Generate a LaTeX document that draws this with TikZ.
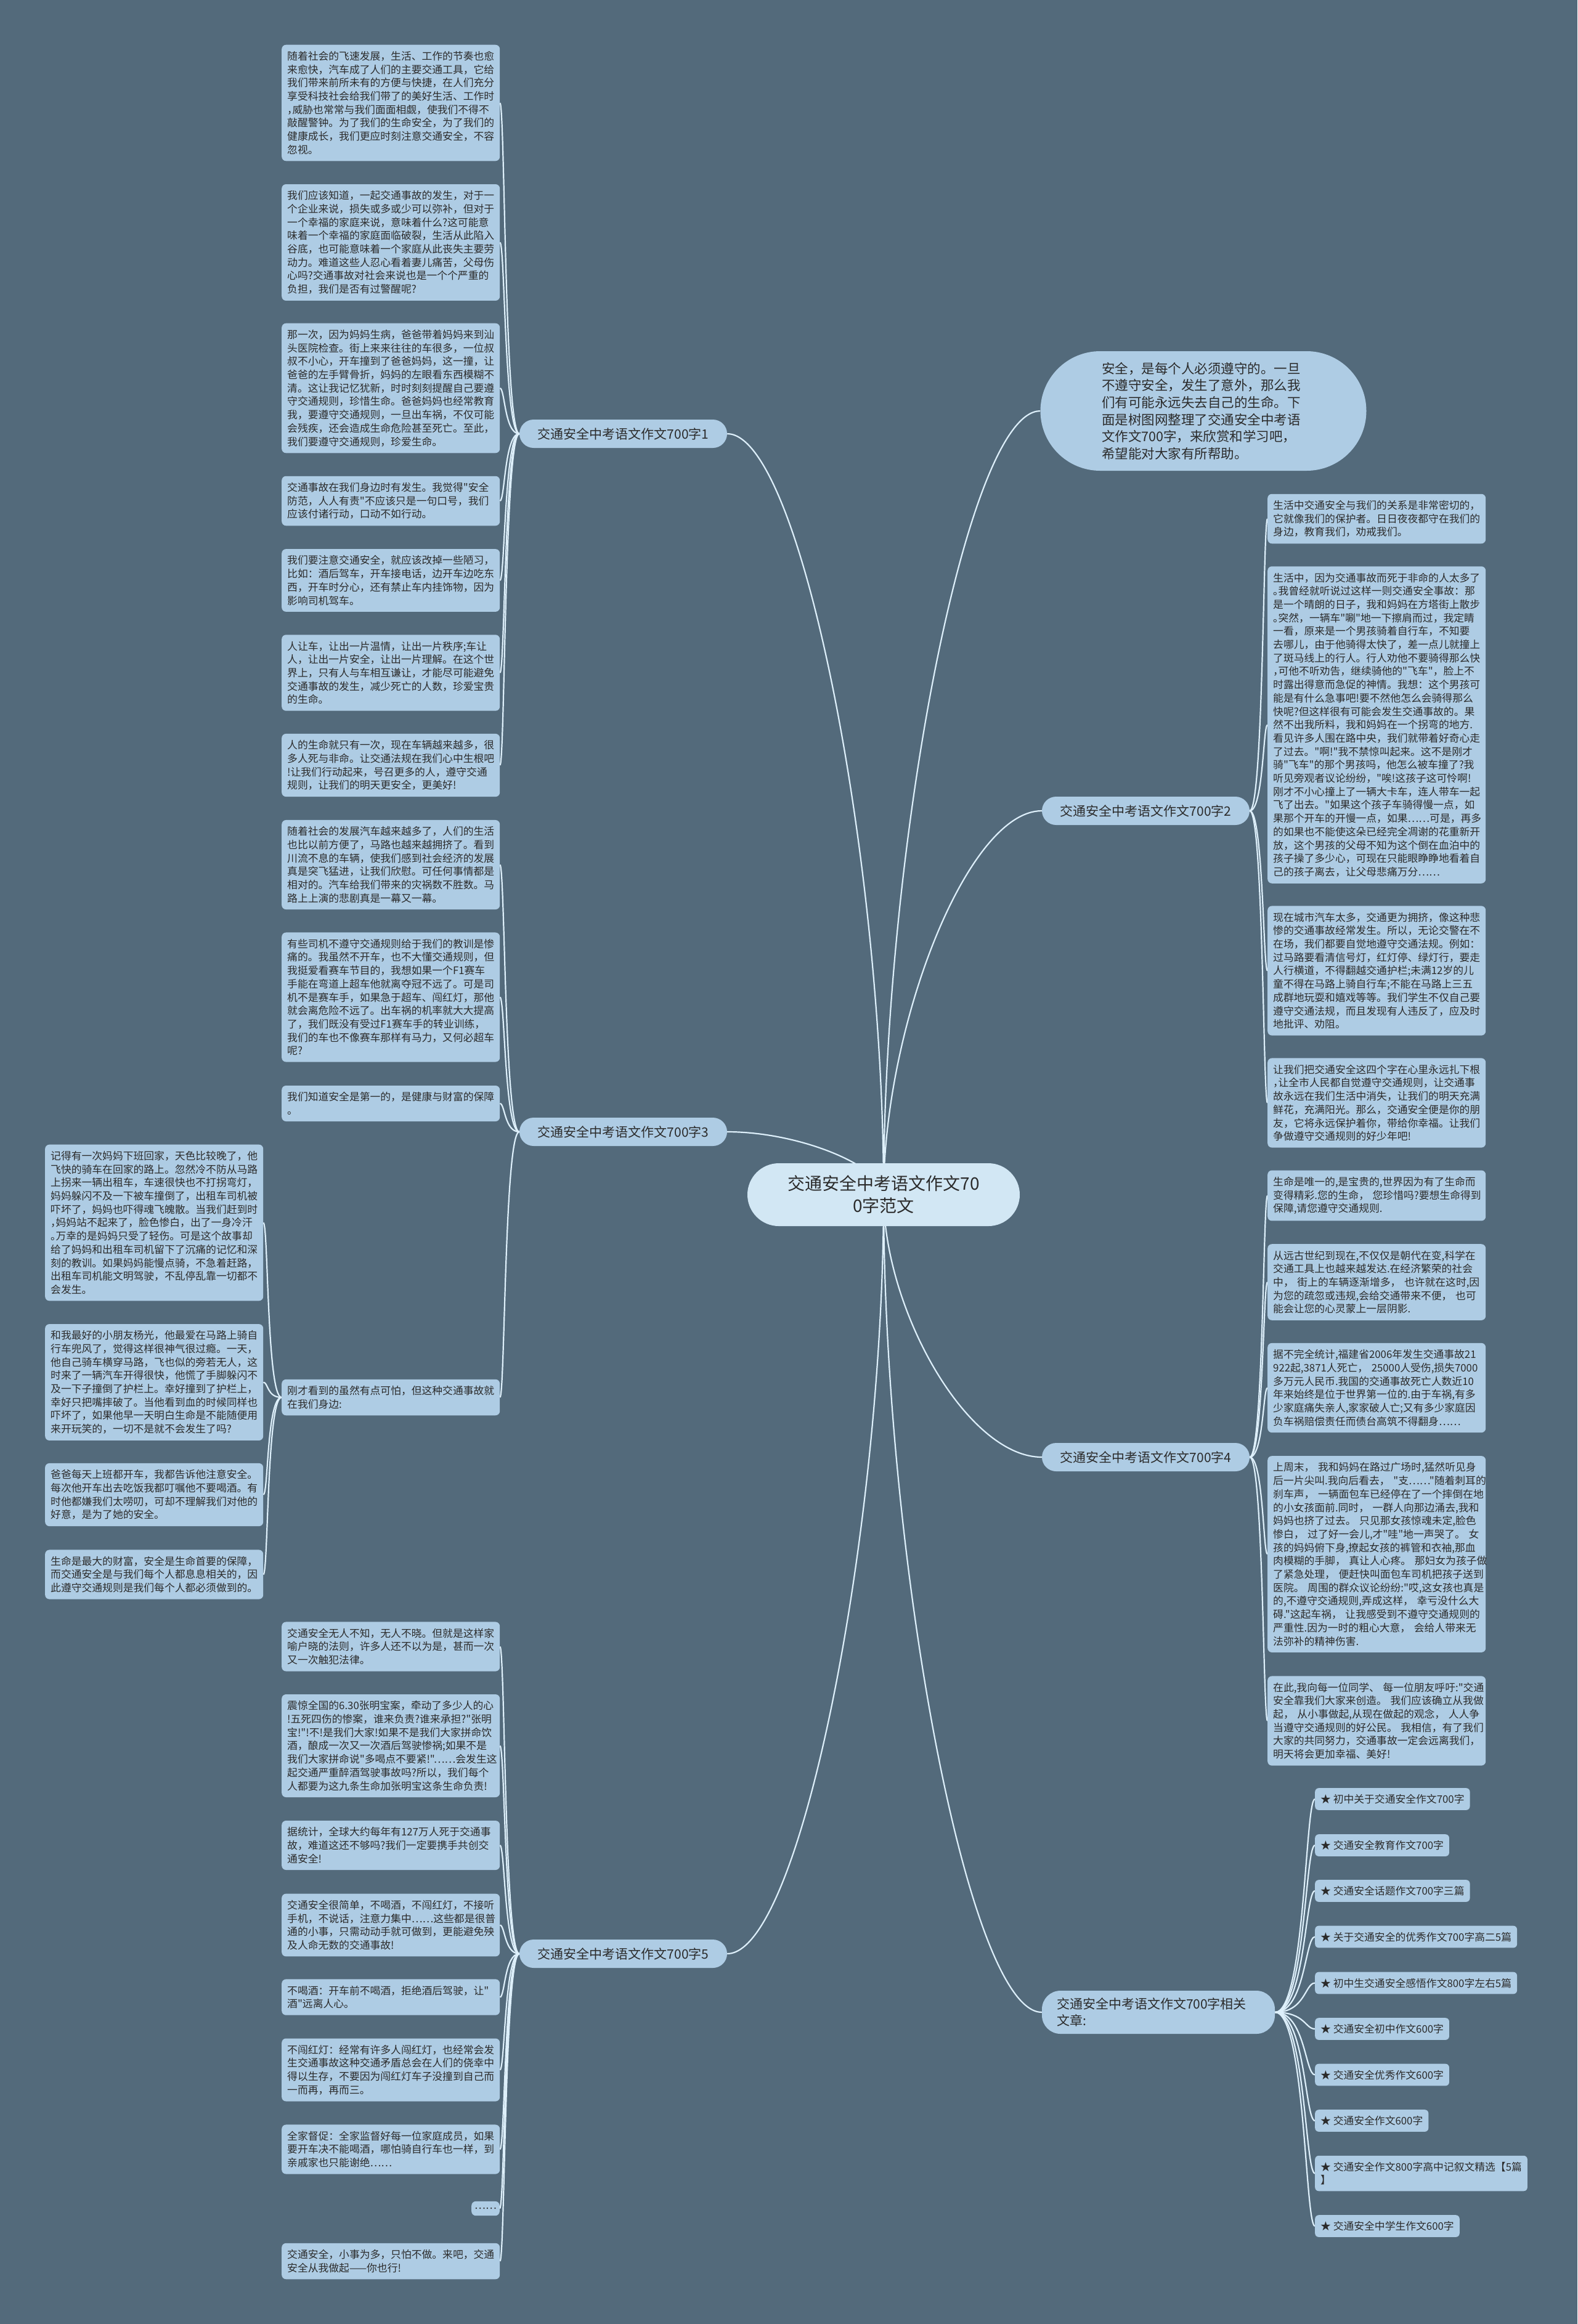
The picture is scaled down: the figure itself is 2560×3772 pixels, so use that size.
\documentclass[tikz,border=0pt]{standalone}
\usepackage{fontspec}
\setmainfont{Noto Sans CJK SC}[Ligatures=TeXOff]
\usetikzlibrary{calc,backgrounds}
\definecolor{bgc}{HTML}{536A7B}
\definecolor{leafc}{HTML}{AECCE4}
\definecolor{centc}{HTML}{D2E7F4}
\definecolor{linec}{HTML}{DDEFFA}
\definecolor{txtc}{HTML}{2B2B2B}
\newcommand\hc[1]{\makebox[0.5em][l]{#1}}
\newcommand\cconn[1]{\draw[link] (c.center) .. controls ($(c.center)!0.44!(c.center |- #1)$) and ($(#1)!0.47!(c.center |- #1)$) .. (#1);}
\newcommand\lconn[2]{\draw[link] (#1.west) .. controls ([xshift=-24pt]#1.west) and ([xshift=8pt]#2.east) .. (#2.east);}
\newcommand\rconn[2]{\draw[link] (#1.east) .. controls ([xshift=22pt]#1.east) and ([xshift=-7pt]#2.west) .. (#2.west);}
\newcommand\aconn[2]{\draw[link] (#1.east) .. controls ([xshift=49pt]#1.east) and ([xshift=-16pt]#2.west) .. (#2.west);}
\begin{document}
\begin{tikzpicture}[x=1pt,y=-1pt,
  leaf/.style={fill=leafc,rounded corners=7pt,text width=336pt,inner xsep=9pt,inner ysep=10.5pt,align=left,anchor=west,font=\fontsize{16.8}{21.7}\selectfont,text=txtc},
  dots/.style={fill=leafc,rounded corners=7pt,inner xsep=5pt,inner ysep=10.5pt,anchor=east,font=\fontsize{16.8}{21.7}\selectfont,text=txtc},
  art/.style={fill=leafc,rounded corners=6pt,inner xsep=9pt,inner ysep=10pt,align=left,anchor=west,font=\fontsize{16.8}{21.7}\selectfont,text=txtc},
  branch/.style={fill=leafc,rounded corners=23pt,minimum width=337pt,minimum height=46pt,inner sep=0pt,font=\fontsize{21}{26}\selectfont,text=txtc},
  relb/.style={fill=leafc,rounded corners=30pt,minimum width=378pt,minimum height=70pt,text width=330pt,align=left,inner sep=0pt,font=\fontsize{21}{27}\selectfont,text=txtc},
  cent/.style={fill=centc,rounded corners=51pt,minimum width=442pt,minimum height=102pt,inner sep=0pt,align=center,font=\fontsize{28}{36}\selectfont,text=txtc},
  intro/.style={fill=leafc,rounded corners=97pt,minimum width=529pt,minimum height=194pt,text width=330pt,inner sep=0pt,align=left,font=\fontsize{21.5}{27.7}\selectfont,text=txtc},
  link/.style={draw=linec,line width=2.2pt},
]
\useasboundingbox (0,0) rectangle (2560,3772);
\begin{scope}[on background layer]
\fill[bgc] (0,0) rectangle (2560,3772);
\end{scope}

% center and intro
\node[cent] (c) at (1434,1939) {交通安全中考语文作文70\\0字范文};
\node[intro] (intro) at (1953,667) {安全，是每个人必须遵守的。一旦\\不遵守安全，发生了意外，那么我\\们有可能永远失去自己的生命。下\\面是树图网整理了交通安全中考语\\文作文700字，来欣赏和学习吧，\\希望能对大家有所帮助。};

% branches
\node[branch] (b1) at (1011.5,704) {交通安全中考语文作文700字1};
\node[branch] (b3) at (1011.5,1837) {交通安全中考语文作文700字3};
\node[branch] (b5) at (1011.5,3171) {交通安全中考语文作文700字5};
\node[branch] (b2) at (1859.5,1316) {交通安全中考语文作文700字2};
\node[branch] (b4) at (1859.5,2365) {交通安全中考语文作文700字4};
\node[relb] (rel) at (1880,3266) {交通安全中考语文作文700字相关\\文章:};

% branch 1 leaves
\node[leaf] (l1a) at (457,167) {随着社会的飞速发展，生活、工作的节奏也愈\\来愈快，汽车成了人们的主要交通工具，它给\\我们带来前所未有的方便与快捷，在人们充分\\享受科技社会给我们带了的美好生活、工作时\\\hc{，}威胁也常常与我们面面相觑，使我们不得不\\敲醒警钟。为了我们的生命安全，为了我们的\\健康成长，我们更应时刻注意交通安全，不容\\忽视。};
\node[leaf] (l1b) at (457,393.5) {我们应该知道，一起交通事故的发生，对于一\\个企业来说，损失或多或少可以弥补，但对于\\一个幸福的家庭来说，意味着什么?这可能意\\味着一个幸福的家庭面临破裂，生活从此陷入\\谷底，也可能意味着一个家庭从此丧失主要劳\\动力。难道这些人忍心看着妻儿痛苦，父母伤\\心吗?交通事故对社会来说也是一个个严重的\\负担，我们是否有过警醒呢?};
\node[leaf] (l1c) at (457,630) {那一次，因为妈妈生病，爸爸带着妈妈来到汕\\头医院检查。街上来来往往的车很多，一位叔\\叔不小心，开车撞到了爸爸妈妈，这一撞，让\\爸爸的左手臂骨折，妈妈的左眼看东西模糊不\\清。这让我记忆犹新，时时刻刻提醒自己要遵\\守交通规则，珍惜生命。爸爸妈妈也经常教育\\我，要遵守交通规则，一旦出车祸，不仅可能\\会残疾，还会造成生命危险甚至死亡。至此，\\我们要遵守交通规则，珍爱生命。};
\node[leaf] (l1d) at (457,813) {交通事故在我们身边时有发生。我觉得"安全\\防范，人人有责"不应该只是一句口号，我们\\应该付诸行动，口动不如行动。};
\node[leaf] (l1e) at (457,942) {我们要注意交通安全，就应该改掉一些陋习，\\比如：酒后驾车，开车接电话，边开车边吃东\\西，开车时分心，还有禁止车内挂饰物，因为\\影响司机驾车。};
\node[leaf] (l1f) at (457,1092) {人让车，让出一片温情，让出一片秩序;车让\\人，让出一片安全，让出一片理解。在这个世\\界上，只有人与车相互谦让，才能尽可能避免\\交通事故的发生，减少死亡的人数，珍爱宝贵\\的生命。};
\node[leaf] (l1g) at (457,1242) {人的生命就只有一次，现在车辆越来越多，很\\多人死与非命。让交通法规在我们心中生根吧\\!让我们行动起来，号召更多的人，遵守交通\\规则，让我们的明天更安全，更美好!};

% branch 3 leaves
\node[leaf] (l3a) at (457,1403.5) {随着社会的发展汽车越来越多了，人们的生活\\也比以前方便了，马路也越来越拥挤了。看到\\川流不息的车辆，使我们感到社会经济的发展\\真是突飞猛进，让我们欣慰。可任何事情都是\\相对的。汽车给我们带来的灾祸数不胜数。马\\路上上演的悲剧真是一幕又一幕。};
\node[leaf] (l3b) at (457,1618.5) {有些司机不遵守交通规则给于我们的教训是惨\\痛的。我虽然不开车，也不大懂交通规则，但\\我挺爱看赛车节目的，我想如果一个F1赛车\\手能在弯道上超车他就离夺冠不远了。可是司\\机不是赛车手，如果急于超车、闯红灯，那他\\就会离危险不远了。出车祸的机率就大大提高\\了，我们既没有受过F1赛车手的转业训练，\\我们的车也不像赛车那样有马力，又何必超车\\呢?};
\node[leaf] (l3c) at (457,1791) {我们知道安全是第一的，是健康与财富的保障\\。};
\node[leaf] (l3d) at (457,2268) {刚才看到的虽然有点可怕，但这种交通事故就\\在我们身边:};

% far-left leaves
\node[leaf] (f1) at (73,1984.5) {记得有一次妈妈下班回家，天色比较晚了，他\\飞快的骑车在回家的路上。忽然冷不防从马路\\上拐来一辆出租车，车速很快也不打拐弯灯，\\妈妈躲闪不及一下被车撞倒了，出租车司机被\\吓坏了，妈妈也吓得魂飞魄散。当我们赶到时\\\hc{，}妈妈站不起来了，脸色惨白，出了一身冷汗\\\hc{。}万幸的是妈妈只受了轻伤。可是这个故事却\\给了妈妈和出租车司机留下了沉痛的记忆和深\\刻的教训。如果妈妈能慢点骑，不急着赶路，\\出租车司机能文明驾驶，不乱停乱靠一切都不\\会发生。};
\node[leaf] (f2) at (73,2243.5) {和我最好的小朋友杨光，他最爱在马路上骑自\\行车兜风了，觉得这样很神气很过瘾。一天，\\他自己骑车横穿马路，飞也似的旁若无人，这\\时来了一辆汽车开得很快，他慌了手脚躲闪不\\及一下子撞倒了护栏上。幸好撞到了护栏上，\\幸好只把嘴摔破了。当他看到血的时候同样也\\吓坏了，如果他早一天明白生命是不能随便用\\来开玩笑的，一切不是就不会发生了吗?};
\node[leaf] (f3) at (73,2426) {爸爸每天上班都开车，我都告诉他注意安全。\\每次他开车出去吃饭我都叮嘱他不要喝酒。有\\时他都嫌我们太唠叨，可却不理解我们对他的\\好意，是为了她的安全。};
\node[leaf] (f4) at (73,2555.5) {生命是最大的财富，安全是生命首要的保障，\\而交通安全是与我们每个人都息息相关的，因\\此遵守交通规则是我们每个人都必须做到的。};

% branch 5 leaves
\node[leaf] (l5a) at (457,2672.5) {交通安全无人不知，无人不晓。但就是这样家\\喻户晓的法则，许多人还不以为是，甚而一次\\又一次触犯法律。};
\node[leaf] (l5b) at (457,2833.5) {震惊全国的6.30张明宝案，牵动了多少人的心\\!五死四伤的惨案，谁来负责?谁来承担?"张明\\宝!"!不!是我们大家!如果不是我们大家拼命饮\\酒，酿成一次又一次酒后驾驶惨祸;如果不是\\我们大家拼命说"多喝点不要紧!"……会发生这\\起交通严重醉酒驾驶事故吗?所以，我们每个\\人都要为这九条生命加张明宝这条生命负责!};
\node[leaf] (l5c) at (457,2995) {据统计，全球大约每年有127万人死于交通事\\故，难道这还不够吗?我们一定要携手共创交\\通安全!};
\node[leaf] (l5d) at (457,3124.5) {交通安全很简单，不喝酒，不闯红灯，不接听\\手机，不说话，注意力集中……这些都是很普\\通的小事，只需动动手就可做到，更能避免殃\\及人命无数的交通事故!};
\node[leaf] (l5e) at (457,3241.5) {不喝酒：开车前不喝酒，拒绝酒后驾驶，让"\\酒"远离人心。};
\node[leaf] (l5f) at (457,3359.5) {不闯红灯：经常有许多人闯红灯，也经常会发\\生交通事故这种交通矛盾总会在人们的侥幸中\\得以生存，不要因为闯红灯车子没撞到自己而\\一而再，再而三。};
\node[leaf] (l5g) at (457,3488.5) {全家督促：全家监督好每一位家庭成员，如果\\要开车决不能喝酒，哪怕骑自行车也一样，到\\亲戚家也只能谢绝……};
\node[dots] (l5h) at (811,3584.5) {……};
\node[leaf] (l5i) at (457,3670) {交通安全，小事为多，只怕不做。来吧，交通\\安全从我做起——你也行!};

% branch 2 leaves
\node[leaf] (r2a) at (2057,842) {生活中交通安全与我们的关系是非常密切的，\\它就像我们的保护者。日日夜夜都守在我们的\\身边，教育我们，劝戒我们。};
\node[leaf] (r2b) at (2057,1176.5) {生活中，因为交通事故而死于非命的人太多了\\\hc{。}我曾经就听说过这样一则交通安全事故：那\\是一个晴朗的日子，我和妈妈在方塔街上散步\\\hc{。}突然，一辆车"唰"地一下擦肩而过，我定睛\\一看，原来是一个男孩骑着自行车，不知要\\去哪儿，由于他骑得太快了，差一点儿就撞上\\了斑马线上的行人。行人劝他不要骑得那么快\\\hc{，}可他不听劝告，继续骑他的"飞车"，脸上不\\时露出得意而急促的神情。我想：这个男孩可\\能是有什么急事吧!要不然他怎么会骑得那么\\快呢?但这样很有可能会发生交通事故的。果\\然不出我所料，我和妈妈在一个拐弯的地方.\\看见许多人围在路中央，我们就带着好奇心走\\了过去。"啊!"我不禁惊叫起来。这不是刚才\\骑"飞车"的那个男孩吗，他怎么被车撞了?我\\听见旁观者议论纷纷，"唉!这孩子这可怜啊!\\刚才不小心撞上了一辆大卡车，连人带车一起\\飞了出去。"如果这个孩子车骑得慢一点，如\\果那个开车的开慢一点，如果……可是，再多\\的如果也不能使这朵已经完全凋谢的花重新开\\放，这个男孩的父母不知为这个倒在血泊中的\\孩子操了多少心，可现在只能眼睁睁地看着自\\己的孩子离去，让父母悲痛万分……};
\node[leaf] (r2c) at (2057,1575.5) {现在城市汽车太多，交通更为拥挤，像这种悲\\惨的交通事故经常发生。所以，无论交警在不\\在场，我们都要自觉地遵守交通法规。例如：\\过马路要看清信号灯，红灯停、绿灯行，要走\\人行横道，不得翻越交通护栏;未满12岁的儿\\童不得在马路上骑自行车;不能在马路上三五\\成群地玩耍和嬉戏等等。我们学生不仅自己要\\遵守交通法规，而且发现有人违反了，应及时\\地批评、劝阻。};
\node[leaf] (r2d) at (2057,1790) {让我们把交通安全这四个字在心里永远扎下根\\\hc{，}让全市人民都自觉遵守交通规则，让交通事\\故永远在我们生活中消失，让我们的明天充满\\鲜花，充满阳光。那么，交通安全便是你的朋\\友，它将永远保护着你，带给你幸福。让我们\\争做遵守交通规则的好少年吧!};

% branch 4 leaves
\node[leaf] (r4a) at (2057,1940.5) {生命是唯一的,是宝贵的,世界因为有了生命而\\变得精彩.您的生命，~您珍惜吗?要想生命得到\\保障,请您遵守交通规则.};
\node[leaf] (r4b) at (2057,2081) {从远古世纪到现在,不仅仅是朝代在变,科学在\\交通工具上也越来越发达.在经济繁荣的社会\\中，~街上的车辆逐渐增多，~也许就在这时,因\\为您的疏忽或违规,会给交通带来不便，~也可\\能会让您的心灵蒙上一层阴影.};
\node[leaf] (r4c) at (2057,2252.5) {据不完全统计,福建省2006年发生交通事故21\\922起,3871人死亡，~25000人受伤,损失7000\\多万元人民币.我国的交通事故死亡人数近10\\年来始终是位于世界第一位的.由于车祸,有多\\少家庭痛失亲人,家家破人亡;又有多少家庭因\\负车祸赔偿责任而债台高筑不得翻身……};
\node[leaf] (r4d) at (2057,2522.5) {上周末，~我和妈妈在路过广场时,猛然听见身\\后一片尖叫.我向后看去，~"支……"随着刺耳的\\刹车声，~一辆面包车已经停在了一个摔倒在地\\的小女孩面前.同时，~一群人向那边涌去,我和\\妈妈也挤了过去。~只见那女孩惊魂未定,脸色\\惨白，~过了好一会儿,才"哇"地一声哭了。~女\\孩的妈妈俯下身,撩起女孩的裤管和衣袖,那血\\肉模糊的手脚，~真让人心疼。~那妇女为孩子做\\了紧急处理，~便赶快叫面包车司机把孩子送到\\医院。~周围的群众议论纷纷:"哎,这女孩也真是\\的,不遵守交通规则,弄成这样，~幸亏没什么大\\碍."这起车祸，~让我感受到不遵守交通规则的\\严重性.因为一时的粗心大意，~会给人带来无\\法弥补的精神伤害.};
\node[leaf] (r4e) at (2057,2793) {在此,我向每一位同学、~每一位朋友呼吁:"交通\\安全靠我们大家来创造。~我们应该确立从我做\\起，~从小事做起,从现在做起的观念，~人人争\\当遵守交通规则的好公民。~我相信，有了我们\\大家的共同努力，交通事故一定会远离我们，\\明天将会更加幸福、美好!};

% related articles
\node[art] (a1) at (2134,2920) {★ 初中关于交通安全作文700字};
\node[art] (a2) at (2134,2995) {★ 交通安全教育作文700字};
\node[art] (a3) at (2134,3069) {★ 交通安全话题作文700字三篇};
\node[art] (a4) at (2134,3143.5) {★ 关于交通安全的优秀作文700字高二5篇};
\node[art] (a5) at (2134,3218.5) {★ 初中生交通安全感悟作文800字左右5篇};
\node[art] (a6) at (2134,3293) {★ 交通安全初中作文600字};
\node[art] (a7) at (2134,3367.5) {★ 交通安全优秀作文600字};
\node[art] (a8) at (2134,3442) {★ 交通安全作文600字};
\node[art] (a9) at (2134,3527.5) {★ 交通安全作文800字高中记叙文精选【5篇\\】};
\node[art] (a10) at (2134,3613) {★ 交通安全中学生作文600字};

\begin{scope}[on background layer]
\cconn{intro.west}
\cconn{b1.east}
\cconn{b3.east}
\cconn{b5.east}
\cconn{b2.west}
\cconn{b4.west}
\cconn{rel.west}
\foreach \n in {l1a,l1b,l1c,l1d,l1e,l1f,l1g}{\lconn{b1}{\n}}
\foreach \n in {l3a,l3b,l3c,l3d}{\lconn{b3}{\n}}
\foreach \n in {f1,f2,f3,f4}{\lconn{l3d}{\n}}
\foreach \n in {l5a,l5b,l5c,l5d,l5e,l5f,l5g,l5h,l5i}{\lconn{b5}{\n}}
\foreach \n in {r2a,r2b,r2c,r2d}{\rconn{b2}{\n}}
\foreach \n in {r4a,r4b,r4c,r4d,r4e}{\rconn{b4}{\n}}
\foreach \n in {a1,a2,a3,a4,a5,a6,a7,a8,a9,a10}{\aconn{rel}{\n}}
\end{scope}
\end{tikzpicture}
\end{document}
